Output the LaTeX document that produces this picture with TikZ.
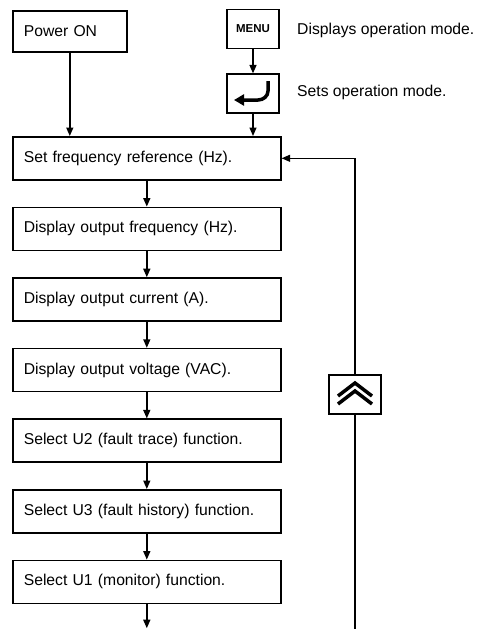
\documentclass[tikz,border=0pt]{standalone}
\usepackage{fontspec}
\setmainfont{Liberation Sans}
\usetikzlibrary{arrows.meta, positioning}
\tikzstyle{block} = [draw, fill=white, rectangle, line width=1.6pt, minimum height=43pt, inner xsep=11pt, text width=246pt, align=left]
\tikzstyle{keybox} = [draw, fill=white, rectangle, line width=1.2pt, minimum width=52pt, minimum height=39pt]
\tikzstyle{note} = [anchor=west, inner sep=0pt]

\begin{document}
\begin{tikzpicture}[x=1pt, y=-1pt, >={Triangle[length=8.5pt,width=7pt]}, font=\fontsize{15.7}{18}\selectfont]
  \useasboundingbox (0,0) rectangle (477,629);
  % keys on top
  \node[block, anchor=north west, text width=92pt, minimum height=41pt] (power) at (12,10) {Power ON};
  \node[keybox, font=\fontsize{11.5}{13}\bfseries] (menu) at (253,29) {MENU};
  \node[keybox] (enter) at (253,93.5) {};
  \node[note] (menunote) at (297,30) {Displays operation mode.};
  \node[note] (enternote) at (297,92) {Sets operation mode.};
  \draw[line width=3.5pt, -{Triangle[length=10pt,width=11pt]}] (268,81) -- (268,91) to[out=-90,in=0] (258,100) -- (234,100);
  % main column
  \node[block, anchor=north west] (setref) at (12,136) {Set frequency reference (Hz).};
  \node[block, below=26pt of setref] (outfreq) {Display output frequency (Hz).};
  \node[block, below=26pt of outfreq] (outcur) {Display output current (A).};
  \node[block, below=26pt of outcur] (outvolt) {Display output voltage (VAC).};
  \node[block, below=26pt of outvolt] (selu2) {Select U2 (fault trace) function.};
  \node[block, below=26pt of selu2] (selu3) {Select U3 (fault history) function.};
  \node[block, below=26pt of selu3] (selu1) {Select U1 (monitor) function.};
  \coordinate[below=24pt of selu1] (exit);
  % return path
  \node[keybox] (upkey) at (355,394.5) {};
  \draw[line width=3.5pt] (338,396) -- (355,383) -- (372,396);
  \draw[line width=3.5pt] (338,404) -- (355,391) -- (372,404);
  \coordinate (loopbot) at (355,629);
  \begin{scope}[line width=1.4pt]
    \draw[->] (power) -- (power |- setref.north);
    \draw[->] (menu) -- (enter);
    \draw[->] (enter) -- (enter |- setref.north);
    \draw[->] (setref) -- (outfreq);
    \draw[->] (outfreq) -- (outcur);
    \draw[->] (outcur) -- (outvolt);
    \draw[->] (outvolt) -- (selu2);
    \draw[->] (selu2) -- (selu3);
    \draw[->] (selu3) -- (selu1);
    \draw[->] (selu1) -- (exit);
  \end{scope}
  \draw[line width=1.2pt] (loopbot) -- (upkey);
  \draw[->, line width=1.2pt] (upkey) |- (setref);
\end{tikzpicture}
\end{document}
